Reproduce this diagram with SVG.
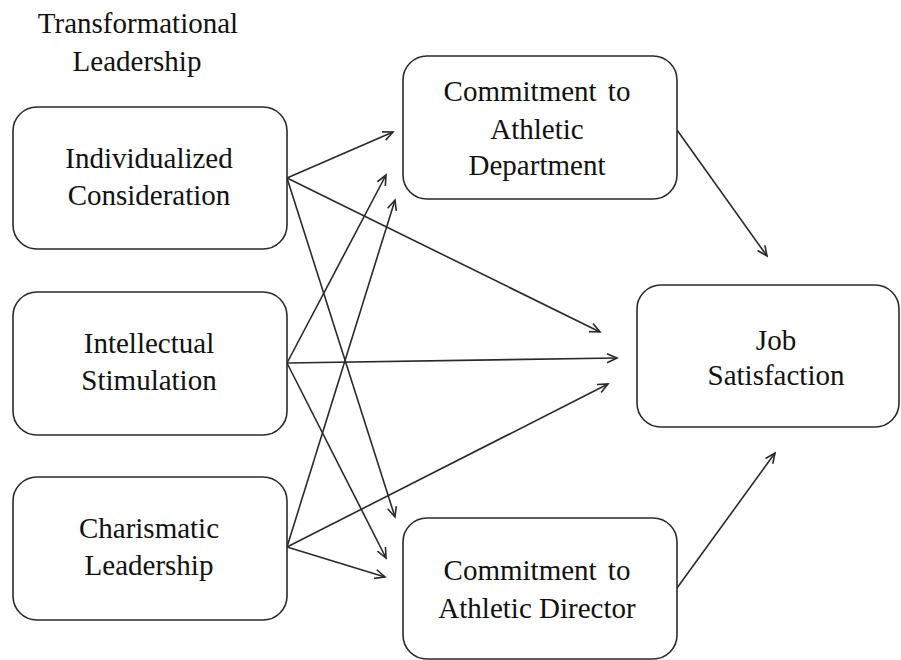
<svg xmlns="http://www.w3.org/2000/svg" width="901" height="660" viewBox="0 0 901 660">
  <style>
    .box { fill: #ffffff; stroke: #2a2a2a; stroke-width: 1.6; }
    .lbl { font-family: "Liberation Serif", "Times New Roman", serif; font-size: 29px; fill: #111111; text-anchor: middle; }
    .edge { fill: none; stroke: #2a2a2a; stroke-width: 1.6; marker-end: url(#arrow); }
  </style>
  <defs>
    <marker id="arrow" viewBox="-12 -6 14 12" refX="0" refY="0" markerWidth="14" markerHeight="12" markerUnits="userSpaceOnUse" orient="auto">
      <path d="M -10,-4.5 L 0,0 L -10,4.5" fill="none" stroke="#2a2a2a" stroke-width="1.6"/>
    </marker>
  </defs>
  <rect width="901" height="660" fill="#ffffff"/>

  <!-- heading over the leadership factors -->
  <g id="heading">
    <text class="lbl" x="138" y="33">Transformational</text>
    <text class="lbl" x="137" y="71">Leadership</text>
  </g>

  <!-- connectors -->
  <g id="connectors">
    <!-- Individualized Consideration -->
    <line class="edge" x1="287" y1="178" x2="393" y2="132"/>
    <line class="edge" x1="287" y1="178" x2="600" y2="332"/>
    <line class="edge" x1="287" y1="178" x2="395" y2="517"/>
    <!-- Intellectual Stimulation -->
    <line class="edge" x1="287" y1="363" x2="386" y2="175"/>
    <line class="edge" x1="287" y1="363" x2="617" y2="358"/>
    <line class="edge" x1="287" y1="363" x2="386" y2="558"/>
    <!-- Charismatic Leadership -->
    <line class="edge" x1="287" y1="547" x2="395" y2="200"/>
    <line class="edge" x1="287" y1="547" x2="608" y2="384"/>
    <line class="edge" x1="287" y1="547" x2="385" y2="577"/>
    <!-- commitments to job satisfaction -->
    <line class="edge" x1="677" y1="130" x2="767" y2="256"/>
    <line class="edge" x1="677" y1="588" x2="775" y2="453"/>
  </g>

  <g id="individualized-consideration">
    <rect class="box" x="13" y="107" width="274" height="142" rx="24"/>
    <text class="lbl" x="149" y="168">Individualized</text>
    <text class="lbl" x="149" y="205">Consideration</text>
  </g>

  <g id="intellectual-stimulation">
    <rect class="box" x="13" y="292" width="274" height="143" rx="24"/>
    <text class="lbl" x="149" y="353">Intellectual</text>
    <text class="lbl" x="149" y="390">Stimulation</text>
  </g>

  <g id="charismatic-leadership">
    <rect class="box" x="13" y="477" width="274" height="143" rx="24"/>
    <text class="lbl" x="149" y="538">Charismatic</text>
    <text class="lbl" x="149" y="575">Leadership</text>
  </g>

  <g id="commitment-department">
    <rect class="box" x="403" y="56" width="274" height="143" rx="24"/>
    <text class="lbl" x="537" y="101" word-spacing="4">Commitment to</text>
    <text class="lbl" x="537" y="139">Athletic</text>
    <text class="lbl" x="537" y="175">Department</text>
  </g>

  <g id="commitment-director">
    <rect class="box" x="403" y="518" width="274" height="141" rx="24"/>
    <text class="lbl" x="537" y="580" word-spacing="4">Commitment to</text>
    <text class="lbl" x="537" y="618">Athletic Director</text>
  </g>

  <g id="job-satisfaction">
    <rect class="box" x="637" y="285" width="262" height="142" rx="24"/>
    <text class="lbl" x="776" y="350">Job</text>
    <text class="lbl" x="776" y="385">Satisfaction</text>
  </g>
</svg>
